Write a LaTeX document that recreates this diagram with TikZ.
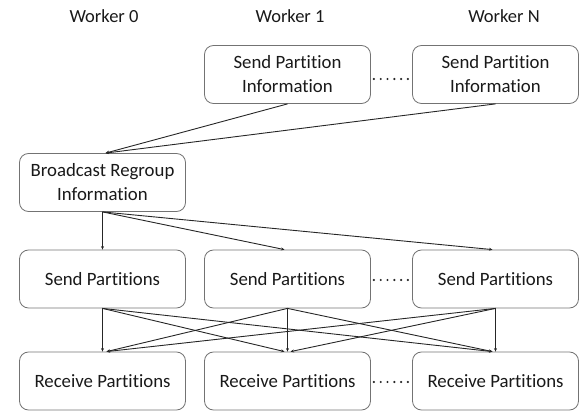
\documentclass[tikz,border=0pt]{standalone}
\usepackage{fontspec}
\setmainfont{Carlito}[Ligatures=NoCommon]
\usetikzlibrary{calc,arrows.meta}
\begin{document}
\begin{tikzpicture}[x=1pt,y=1pt,
  box/.style={draw=black!55,line width=0.8pt,rounded corners=9pt,minimum width=166pt,minimum height=58pt,align=center,inner sep=2pt,font=\fontsize{18.8}{24}\selectfont,text=black!90},
  lbl/.style={font=\fontsize{18.5}{22}\selectfont,text=black!90},
  conn/.style={draw=black!85,line width=0.9pt,-{Stealth[length=3.5pt,width=3pt]}},
  dotline/.style={draw=black!85,line width=2.4pt,line cap=round,dash pattern=on 0pt off 6.8pt}]
\useasboundingbox (0,0) rectangle (587,413);
\node[lbl] (w0) at (104,397) {Worker 0};
\node[lbl] (w1) at (290,397) {Worker 1};
\node[lbl] (wN) at (504,397) {Worker N};
\node[box] (spi1) at (287.5,338.5) {Send Partition\\Information};
\node[box] (spiN) at (495.5,338.5) {Send Partition\\Information};
\node[box] (brd) at (102.5,230.5) {Broadcast Regroup\\Information};
\node[box] (s0) at (102.5,134) {Send Partitions};
\node[box] (s1) at (287.5,134) {Send Partitions};
\node[box] (sN) at (495.5,134) {Send Partitions};
\node[box] (r0) at (102.5,32) {Receive Partitions};
\node[box] (r1) at (287.5,32) {Receive Partitions};
\node[box] (rN) at (495.5,32) {Receive Partitions};
% dots
\draw[dotline] ($(spi1.east)+(3,-4.5)$) -- ($(spiN.west)+(-3,-4.5)$);
\draw[dotline] ($(s1.east)+(3,-1)$) -- ($(sN.west)+(-3,-1)$);
\draw[dotline] ($(r1.east)+(3,-1)$) -- ($(rN.west)+(-3,-1)$);
% top
\draw[conn] (spi1.south) -- ($(brd.north)+(3,0)$);
\draw[conn] (spiN.south) -- ($(brd.north)+(3,0)$);
% broadcast
\draw[conn] (brd.south) -- (s0.north);
\draw[conn] (brd.south) -- ($(s1.north)+(-3,0)$);
\draw[conn] (brd.south) -- ($(sN.north)+(-3,0)$);
% all-to-all
\draw[conn] (s0.south) -- (r0.north);
\draw[conn] (s1.south) -- ($(r0.north)+(4,0)$);
\draw[conn] (sN.south) -- ($(r0.north)+(4,0)$);
\draw[conn] (s0.south) -- ($(r1.north)+(-3,0)$);
\draw[conn] (s1.south) -- (r1.north);
\draw[conn] (sN.south) -- ($(r1.north)+(3,0)$);
\draw[conn] (s0.south) -- ($(rN.north)+(-3,0)$);
\draw[conn] (s1.south) -- ($(rN.north)+(-3,0)$);
\draw[conn] (sN.south) -- (rN.north);
\end{tikzpicture}
\end{document}
